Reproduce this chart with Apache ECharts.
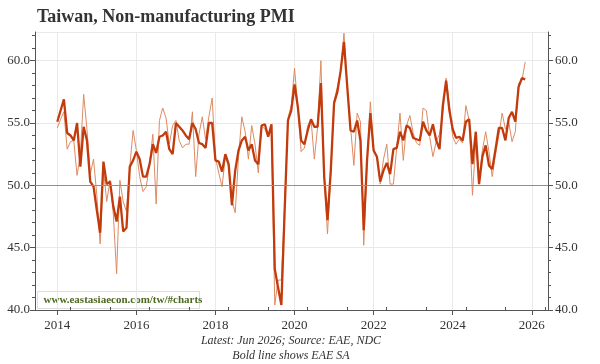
<!DOCTYPE html>
<html>
<head>
<meta charset="utf-8">
<title>Taiwan, Non-manufacturing PMI</title>
<script src="https://cdn.jsdelivr.net/npm/echarts@6/dist/echarts.min.js"></script>
<style>html,body{margin:0;padding:0;background:#fff;}</style>
</head>
<body>
<div id="main" style="width:600px;height:364px;"></div>
<script type="text/javascript">
// monthly, Jan 2014 onwards
var startYear = 2014;
var rawPmi = [
    54.6, 55.3, 55.9, 52.9, 53.5, 53.6, 50.8, 52.5, 57.3, 54.5, 50.9, 52.1,
    49.2, 45.3, 51.3, 48.7, 50.4, 47.7, 42.9, 50.4, 48.7, 47.9, 51.5, 54.4,
    52.8, 50.7, 49.5, 49.9, 51.7, 54.1, 48.5, 55.2, 56.2, 55.4, 53.3, 54.8,
    55.2, 53.6, 53.0, 53.3, 53.3, 55.9, 50.7, 54.1, 55.5, 53.7, 55.5, 57.0,
    52.2, 51.0, 49.9, 52.3, 51.5, 48.8, 47.8, 52.3, 55.5, 54.3, 52.1, 54.8,
    53.3, 51.0, 54.8, 54.5, 53.9, 54.5, 40.4, 42.4, 42.4, 48.5, 55.4, 56.4,
    59.4, 56.3, 52.7, 53.0, 54.8, 55.3, 52.1, 54.7, 60.0, 50.6, 46.1, 51.0,
    56.8, 57.9, 59.2, 62.2, 57.9, 54.7, 51.6, 55.8, 55.1, 45.2, 51.7, 56.7,
    52.9, 52.3, 50.1, 52.1, 53.3, 50.1, 50.1, 53.0, 55.8, 52.0, 54.8, 55.6,
    54.2, 53.4, 53.2, 56.2, 56.0, 53.9, 52.3, 53.5, 54.1, 55.8, 58.6, 56.4,
    53.9, 53.3, 53.7, 53.4, 56.4, 55.2, 49.2, 53.5, 50.4, 52.8, 54.3, 52.7,
    50.7, 52.5, 54.0, 55.8, 54.5, 55.1, 53.5, 54.3, 58.2, 58.4, 59.9
];
var saPmi = [
    55.1, 56.0, 56.9, 54.2, 54.0, 53.6, 55.0, 51.5, 54.7, 53.6, 50.3, 49.9,
    48.0, 46.2, 51.9, 50.1, 50.3, 48.3, 47.1, 49.1, 46.3, 46.6, 51.5, 52.0,
    52.7, 52.1, 50.7, 50.7, 51.7, 53.3, 52.6, 53.9, 54.0, 54.3, 52.9, 52.5,
    55.0, 54.7, 54.4, 54.0, 53.7, 55.0, 54.5, 53.4, 53.3, 53.0, 55.0, 55.0,
    52.0, 51.9, 51.1, 52.5, 51.7, 48.4, 51.2, 52.8, 53.6, 53.9, 52.8, 53.3,
    52.0, 51.7, 54.8, 54.9, 53.9, 54.9, 43.3, 41.8, 40.4, 48.0, 55.2, 56.0,
    58.1, 56.3, 53.6, 53.3, 54.4, 55.3, 54.7, 54.7, 58.2, 50.7, 47.2, 51.2,
    56.6, 57.5, 59.2, 61.5, 57.9, 54.4, 54.3, 55.2, 53.6, 46.4, 52.0, 55.8,
    52.8, 52.3, 50.3, 51.2, 51.8, 50.9, 52.9, 53.0, 54.3, 53.6, 54.8, 54.6,
    53.8, 53.7, 53.6, 55.1, 54.4, 54.0, 54.9, 53.6, 52.9, 56.4, 58.4, 56.0,
    54.5, 53.8, 53.9, 53.6, 55.1, 55.3, 51.7, 54.3, 50.1, 52.3, 53.2, 51.6,
    51.3, 52.9, 54.6, 54.6, 53.6, 55.4, 55.9, 55.1, 57.9, 58.6, 58.5
];
var yearTicks = [2014, 2016, 2018, 2020, 2022, 2024, 2026];
var yearMinorTicks = [2014.33, 2015.33, 2016.33, 2017.33, 2018.33, 2019.33, 2020.33,
    2021.33, 2022.33, 2023.33, 2024.33, 2025.33, 2026.33];
var yMinorTicks = [41, 42, 43, 44, 46, 47, 48, 49, 51, 52, 53, 54, 56, 57, 58, 59, 61, 62];

function toPoints(arr) {
    return arr.map((v, i) => [startYear + i / 12, v]);
}

var serif = '"Liberation Serif", "DejaVu Serif", serif';
var xMin = 2013.436, xMax = 2026.41, yMin = 40, yMax = 62.3;

var myChart = echarts.init(document.getElementById('main'));

function yAxisMain(pos) {
    return {
        type: 'value', position: pos, min: yMin, max: yMax, interval: 5,
        axisLine: {show: true, lineStyle: {color: '#555'}},
        axisTick: {show: true, length: 5, lineStyle: {color: '#555'}},
        axisLabel: {
            show: true, showMaxLabel: false, margin: pos == 'left' ? 5 : 7,
            fontFamily: serif, fontSize: 13, color: '#333',
            formatter: v => v.toFixed(1)
        },
        splitLine: {show: pos == 'left', lineStyle: {color: '#e9e9e9'}}
    };
}
function yAxisMinor(pos) {
    return {
        type: 'value', position: pos, min: yMin, max: yMax,
        axisLine: {show: false},
        axisTick: {show: true, length: 3, customValues: yMinorTicks, lineStyle: {color: '#555'}},
        axisLabel: {show: false},
        splitLine: {show: false}
    };
}

var option = {
    animation: false,
    backgroundColor: '#fff',
    title: {
        text: 'Taiwan, Non-manufacturing PMI',
        left: 32, top: 3,
        textStyle: {fontFamily: serif, fontWeight: 'bold', fontSize: 18, color: '#333'}
    },
    grid: {left: 35, right: 52, top: 32, bottom: 54},
    xAxis: [
        {
            type: 'value', min: xMin, max: xMax,
            axisLine: {show: true, onZero: false, lineStyle: {color: '#555'}},
            axisTick: {show: true, length: 5, customValues: yearTicks, lineStyle: {color: '#555'}},
            axisLabel: {
                show: true, customValues: yearTicks, margin: 9,
                fontFamily: serif, fontSize: 13, color: '#333',
                formatter: v => String(Math.round(v))
            },
            splitLine: {show: true, lineStyle: {color: '#e9e9e9'}}
        },
        {
            type: 'value', position: 'bottom', min: xMin, max: xMax,
            axisLine: {show: false, onZero: false},
            axisTick: {show: true, inside: true, length: 3, customValues: yearMinorTicks, lineStyle: {color: '#555'}},
            axisLabel: {show: false},
            splitLine: {show: false}
        }
    ],
    yAxis: [yAxisMain('left'), yAxisMain('right'), yAxisMinor('left'), yAxisMinor('right')],
    series: [
        {
            name: 'PMI', type: 'line', showSymbol: false,
            data: toPoints(rawPmi),
            lineStyle: {width: 1, color: '#de8b63'},
            itemStyle: {color: '#de8b63'},
            markLine: {
                silent: true, symbol: ['none', 'none'],
                label: {show: false},
                lineStyle: {color: '#8f8f8f', width: 1, type: 'solid'},
                data: [{yAxis: 50}]
            }
        },
        {
            name: 'EAE SA', type: 'line', showSymbol: false,
            data: toPoints(saPmi),
            lineStyle: {width: 2.3, color: '#c23b0c'},
            itemStyle: {color: '#c23b0c'}
        }
    ],
    graphic: [
        {
            type: 'group', left: 37, top: 291,
            children: [
                {type: 'rect', shape: {x: 0, y: 0, width: 162, height: 17},
                 style: {fill: '#fff', stroke: '#dddddd', lineWidth: 1}},
                {type: 'text', x: 6, y: 9,
                 style: {text: 'www.eastasiaecon.com/tw/#charts', font: 'bold 11px ' + serif,
                         fill: '#4d6a22', textVerticalAlign: 'middle'}}
            ]
        },
        {
            type: 'text', x: 291, y: 341,
            style: {text: 'Latest: Jun 2026; Source: EAE, NDC', font: 'italic 12px ' + serif,
                    fill: '#333', textAlign: 'center', textVerticalAlign: 'middle'}
        },
        {
            type: 'text', x: 291, y: 356,
            style: {text: 'Bold line shows EAE SA', font: 'italic 12px ' + serif,
                    fill: '#333', textAlign: 'center', textVerticalAlign: 'middle'}
        }
    ]
};

myChart.setOption(option);
</script>
</body>
</html>
